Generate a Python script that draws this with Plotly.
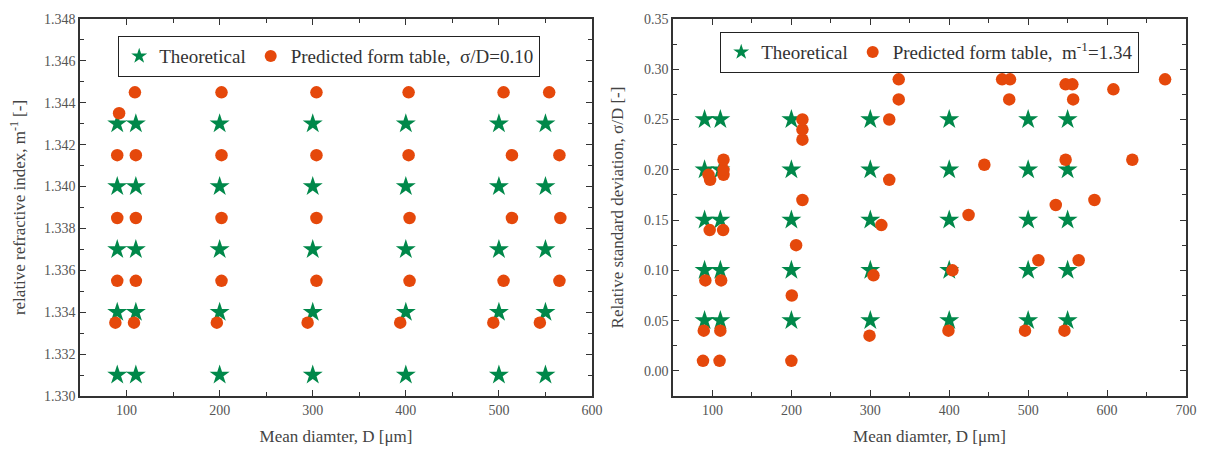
import plotly.graph_objects as go

# ---------------- data: left panel (sigma/D = 0.10) ----------------
theo_D_left = [90, 110, 200, 300, 400, 500, 550]
theo_m_left = [1.331, 1.334, 1.337, 1.340, 1.343]

pred_D_left = [88, 90, 90, 90, 92,
               108, 110, 110, 110, 109,
               197, 202, 202, 202, 202,
               294.5, 304, 304, 304, 304,
               394, 404, 404, 403, 403,
               494, 505, 514, 514, 505,
               544, 565, 566, 565, 554]
pred_m_left = [1.3335, 1.3355, 1.3385, 1.3415, 1.3435,
               1.3335, 1.3355, 1.3385, 1.3415, 1.3445,
               1.3335, 1.3355, 1.3385, 1.3415, 1.3445,
               1.3335, 1.3355, 1.3385, 1.3415, 1.3445,
               1.3335, 1.3355, 1.3385, 1.3415, 1.3445,
               1.3335, 1.3355, 1.3385, 1.3415, 1.3445,
               1.3335, 1.3355, 1.3385, 1.3415, 1.3445]

# ---------------- data: right panel (m^-1 = 1.34) ----------------
theo_D_right = [90, 110, 200, 300, 400, 500, 550]
theo_s_right = [0.05, 0.10, 0.15, 0.20, 0.25]

pred_D_right = [88, 109, 200, 89, 110, 299, 399, 496, 546, 200.5,
                91, 111, 304, 404, 513, 564, 206, 96.5, 113.5, 314,
                424.5, 535, 214, 584, 324, 97, 95, 114, 114, 114,
                444.5, 547.5, 632, 214, 214, 214, 324, 336, 336, 467,
                477, 476, 547.5, 556, 557, 608, 673.5]
pred_s_right = [0.01, 0.01, 0.01, 0.04, 0.04, 0.035, 0.04, 0.04, 0.04, 0.075,
                0.09, 0.09, 0.095, 0.10, 0.11, 0.11, 0.125, 0.14, 0.14, 0.145,
                0.155, 0.165, 0.17, 0.17, 0.19, 0.19, 0.195, 0.195, 0.20, 0.21,
                0.205, 0.21, 0.21, 0.23, 0.24, 0.25, 0.25, 0.27, 0.29, 0.29,
                0.29, 0.27, 0.285, 0.285, 0.27, 0.28, 0.29]

GREEN = "#00884A"
ORANGE = "#E5480B"
FONT = "Liberation Serif"


def grid(xs, ys):
    gx, gy = [], []
    for x in xs:
        for y in ys:
            gx.append(x)
            gy.append(y)
    return gx, gy


tlx, tly = grid(theo_D_left, theo_m_left)
trx, try_ = grid(theo_D_right, theo_s_right)

fig = go.Figure()

star = dict(symbol="star", size=15, color=GREEN, line=dict(width=0))
dot = dict(symbol="circle", size=12.5, color=ORANGE, line=dict(width=0))

fig.add_trace(go.Scatter(x=tlx, y=tly, mode="markers", marker=star,
                         name="Theoretical", xaxis="x", yaxis="y", legend="legend"))
fig.add_trace(go.Scatter(x=pred_D_left, y=pred_m_left, mode="markers", marker=dot,
                         name="Predicted form table,  σ/D=0.10", xaxis="x", yaxis="y",
                         legend="legend"))
fig.add_trace(go.Scatter(x=trx, y=try_, mode="markers", marker=star,
                         name="Theoretical", xaxis="x2", yaxis="y2", legend="legend2"))
fig.add_trace(go.Scatter(x=pred_D_right, y=pred_s_right, mode="markers", marker=dot,
                         name="Predicted form table,  m<sup>-1</sup>=1.34", xaxis="x2",
                         yaxis="y2", legend="legend2"))

W, H = 1206, 453
ydom = [1 - 396 / H, 1 - 19 / H]

axis_common = dict(
    showgrid=False, zeroline=False, showline=True, linecolor="#333", linewidth=1.5,
    mirror="allticks", ticks="inside", ticklen=6, tickwidth=1.2, tickcolor="#333",
    tickfont=dict(family=FONT, size=14, color="#555"),
    automargin=False,
)
title_font = dict(family=FONT, size=17, color="#444")
legend_font = dict(family=FONT, size=19, color="#333")

fig.update_layout(
    width=W, height=H,
    margin=dict(l=0, r=0, t=0, b=0),
    paper_bgcolor="white", plot_bgcolor="white",
    showlegend=True,
    xaxis=dict(axis_common, domain=[80 / W, 592 / W], range=[50, 600], dtick=100,
               tick0=0, anchor="y",
               minor=dict(dtick=50, ticks="inside", ticklen=4, tickcolor="#333"),
               title=dict(text="Mean diamter, D [μm]", font=title_font, standoff=14)),
    yaxis=dict(axis_common, domain=ydom, range=[1.330, 1.348], dtick=0.002,
               tickformat=".3f", anchor="x",
               minor=dict(dtick=0.001, ticks="inside", ticklen=4, tickcolor="#333"),
               title=dict(text="relative refractive index, m<sup>-1</sup> [-]",
                          font=title_font, standoff=14)),
    xaxis2=dict(axis_common, domain=[673 / W, 1186 / W], range=[50, 700], dtick=100,
                tick0=0, anchor="y2",
                minor=dict(dtick=50, ticks="inside", ticklen=4, tickcolor="#333"),
                title=dict(text="Mean diamter, D [μm]", font=title_font, standoff=14)),
    yaxis2=dict(axis_common, domain=ydom, range=[-0.025, 0.35], dtick=0.05,
                tickformat=".2f", anchor="x2",
                minor=dict(dtick=0.025, ticks="inside", ticklen=4, tickcolor="#333"),
                title=dict(text="Relative standard deviation, σ/D [-]",
                           font=title_font, standoff=16)),
    legend=dict(x=118 / W, y=1 - 36 / H, xanchor="left", yanchor="top",
                orientation="h", bordercolor="#222", borderwidth=1.2,
                bgcolor="white", font=legend_font, itemsizing="constant"),
    legend2=dict(x=720 / W, y=1 - 32 / H, xanchor="left", yanchor="top",
                 orientation="h", bordercolor="#222", borderwidth=1.2,
                 bgcolor="white", font=legend_font, itemsizing="constant"),
)

fig.write_html("out.html",
               config={"displayModeBar": False},
               post_script="document.body.style.margin='0';document.body.style.padding='0';")
